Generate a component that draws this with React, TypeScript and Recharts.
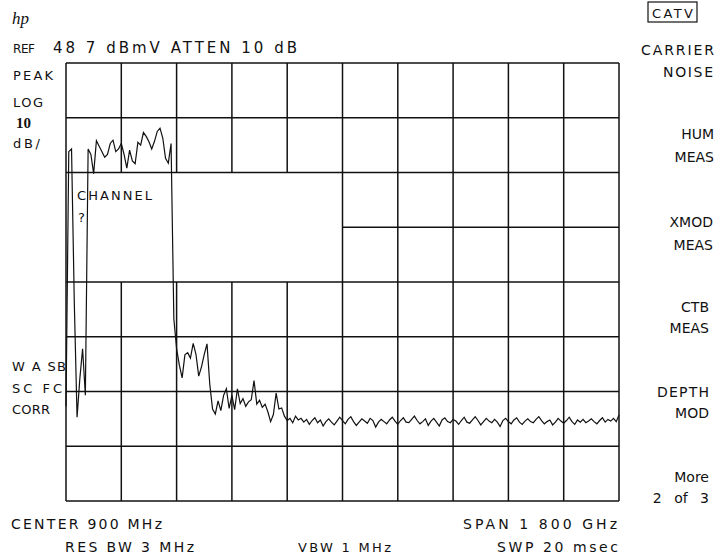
import { Line, LineChart, ReferenceLine, XAxis, YAxis } from "recharts"

// sweep trace, dBmV in 9 MHz steps (201 points over 1.8 GHz)
const channelBand = [
  -14, 32.5, 33.0, 5, -16, -9, -3.5, -12, 33.0, 32.0, 28.5, 34.5, 33.5, 32.5, 31.5, 32.0, 34.0, 34.6, 32.5, 33.0,
  34.0, 32.0, 29.5, 32.8, 30.8, 30.3, 34.2, 33.7, 36.0, 35.3, 34.3, 33.0, 34.4, 36.2, 36.8, 35.0, 31.3, 30.4, 34.0,
]
const rolloff = [
  2.0, -3.5, -6.5, -8.8, -4.6, -4.2, -5.2, -2.5, -4.5, -8.5, -6.8, -4.5, -2.6, -10.0, -14.5, -15.4, -13.0, -14.8,
  -12.0, -10.8, -14.4, -12.0, -14.6, -10.8, -13.5, -12.6, -14.0, -13.2, -12.8, -9.3, -13.6, -12.9, -14.2, -13.6,
  -15.0, -16.8, -15.5, -11.6, -14.5, -14.3, -15.8, -16.6, -16.2, -17.0, -15.8, -16.5,
]
const noiseFloor = [
  -16.2, -16.9, -16.4, -17.3, -16.6, -16.1, -17.0, -16.5, -17.6, -16.8,
  -16.3, -16.9, -17.4, -16.7, -16.0, -16.6, -17.2, -16.4, -15.9, -16.8,
  -17.5, -16.9, -16.3, -16.7, -17.1, -16.2, -16.6, -17.8, -16.9, -16.4,
  -16.8, -17.2, -16.5, -16.0, -16.7, -17.3, -16.6, -16.1, -16.9, -17.0,
  -16.4, -15.8, -16.6, -17.2, -16.8, -16.3, -17.5, -16.7, -16.2, -16.9,
  -17.6, -16.5, -16.1, -16.8, -17.0, -16.4, -16.7, -17.3, -16.6, -16.0,
  -16.9, -17.1, -16.5, -15.9, -16.6, -17.4, -16.8, -16.2, -16.7, -17.0,
  -16.4, -16.9, -17.7, -16.6, -16.2, -16.8, -17.2, -16.5, -16.1, -16.9,
  -17.3, -16.7, -16.3, -16.8, -17.0, -16.4, -15.9, -16.6, -17.2, -16.8,
  -16.5, -17.4, -16.9, -16.2, -16.7, -17.1, -16.6, -16.0, -16.8, -17.3,
  -16.5, -16.9, -16.4, -17.0, -16.7, -16.3, -16.8, -17.2, -16.6, -16.1,
  -16.9, -16.4, -16.7, -16.2, -16.8, -15.6,
]

const SPAN_MHZ = 1800
const freqTicks = [0, 180, 360, 540, 720, 900, 1080, 1260, 1440, 1620, 1800]
const levelTicks = [-31.3, -21.3, -11.3, -1.3, 8.7, 18.7, 28.7, 38.7, 48.7]
// "CHANNEL ?" window blanks the graticule here
const windowFreq = [0, 900]
const windowLevel = [8.7, 28.7]

const softkeys = [
  { label: "CARRIER", y: 55, right: 714, len: 73 },
  { label: "NOISE", y: 77, right: 713, len: 50 },
  { label: "HUM", y: 139, right: 714 },
  { label: "MEAS", y: 162, right: 714 },
  { label: "XMOD", y: 227, right: 713 },
  { label: "MEAS", y: 250, right: 713 },
  { label: "CTB", y: 312, right: 709 },
  { label: "MEAS", y: 333, right: 709 },
  { label: "DEPTH", y: 397, right: 709, len: 52 },
  { label: "MOD", y: 418, right: 709 },
  { label: "More", y: 482, right: 709 },
]

const trace = [...channelBand, ...rolloff, ...noiseFloor]
const data = trace.map((level, i) => ({ freq: (i * SPAN_MHZ) / (trace.length - 1), level }))

const yMin = levelTicks[0]
const yMax = levelTicks[levelTicks.length - 1]

type Seg = [{ x: number; y: number }, { x: number; y: number }]
const gridSegments: Seg[] = []
freqTicks.forEach((f) => {
  if (f > windowFreq[0] && f < windowFreq[1]) {
    gridSegments.push([{ x: f, y: yMin }, { x: f, y: windowLevel[0] }])
    gridSegments.push([{ x: f, y: windowLevel[1] }, { x: f, y: yMax }])
  } else {
    gridSegments.push([{ x: f, y: yMin }, { x: f, y: yMax }])
  }
})
levelTicks.forEach((l) => {
  if (l > windowLevel[0] && l < windowLevel[1]) {
    gridSegments.push([{ x: windowFreq[1], y: l }, { x: SPAN_MHZ, y: l }])
  } else {
    gridSegments.push([{ x: 0, y: l }, { x: SPAN_MHZ, y: l }])
  }
})

const font = "'DejaVu Sans', sans-serif"
const ink = "#111"

function Label(props: { x: number; y: number; text: string; size?: number; len?: number; anchor?: "start" | "end" }) {
  const { x, y, text, size = 13, len, anchor = "start" } = props
  return (
    <text
      x={x}
      y={y}
      fontSize={size}
      fontFamily={font}
      fill={ink}
      textAnchor={anchor}
      textLength={len}
      lengthAdjust={len ? "spacing" : undefined}
    >
      {text}
    </text>
  )
}

export default function App() {
  return (
    <div style={{ position: "absolute", left: 0, top: 0, width: 720, height: 558, background: "#fff" }}>
      <LineChart width={720} height={558} data={data} margin={{ top: 63, right: 101, bottom: 57, left: 66 }}>
        <XAxis type="number" dataKey="freq" domain={[0, SPAN_MHZ]} ticks={freqTicks} hide />
        <YAxis type="number" domain={[yMin, yMax]} ticks={levelTicks} hide />
        {gridSegments.map((s, i) => (
          <ReferenceLine key={i} segment={s} stroke={ink} strokeWidth={1.5} />
        ))}
        <Line
          type="linear"
          dataKey="level"
          stroke={ink}
          strokeWidth={1.2}
          dot={false}
          isAnimationActive={false}
        />
      </LineChart>
      <svg width={720} height={558} style={{ position: "absolute", left: 0, top: 0, pointerEvents: "none" }}>
        <text x={12} y={24} fontSize={17} fontStyle="italic" fontFamily="'Liberation Serif', serif" fill={ink}>
          hp
        </text>
        <Label x={13} y={53} text="REF" size={12} len={22} />
        <Label x={53} y={53} text="48 7  dBmV  ATTEN  10  dB" size={15} len={244} />
        <Label x={13} y={80} text="PEAK" len={40} />
        <Label x={13} y={107} text="LOG" len={30} />
        <text x={16} y={128} fontSize={15} fontWeight="bold" fontFamily="'Liberation Serif', serif" fill={ink}>
          10
        </text>
        <Label x={13} y={148} text="dB/" len={27} />
        <Label x={77} y={200} text="CHANNEL" len={75} />
        <Label x={78} y={222} text="?" />
        <Label x={12} y={371} text="W A SB" len={54} />
        <Label x={12} y={393} text="SC FC" len={50} />
        <Label x={12} y={414} text="CORR" len={38} />
        <Label x={11} y={529} text="CENTER 900 MHz" size={14} len={151} />
        <Label x={65} y={552} text="RES BW 3 MHz" size={14} len={129} />
        <Label x={298} y={552} text="VBW  1  MHz" size={13} len={93} />
        <Label x={463} y={529} text="SPAN 1 800 GHz" size={14} len={154} />
        <Label x={497} y={552} text="SWP 20 msec" size={14} len={121} />
        <rect x={648} y={2} width={49} height={20} fill="none" stroke={ink} strokeWidth={1.2} />
        <Label x={652} y={18} text="CATV" len={41} />
        {softkeys.map((k, i) => (
          <Label key={i} x={k.right} y={k.y} text={k.label} anchor="end" size={14} len={k.len} />
        ))}
        <text x={709} y={503} fontSize={14} fontFamily={font} fill={ink} textAnchor="end" style={{ wordSpacing: 8 }}>
          2 of 3
        </text>
      </svg>
    </div>
  )
}
